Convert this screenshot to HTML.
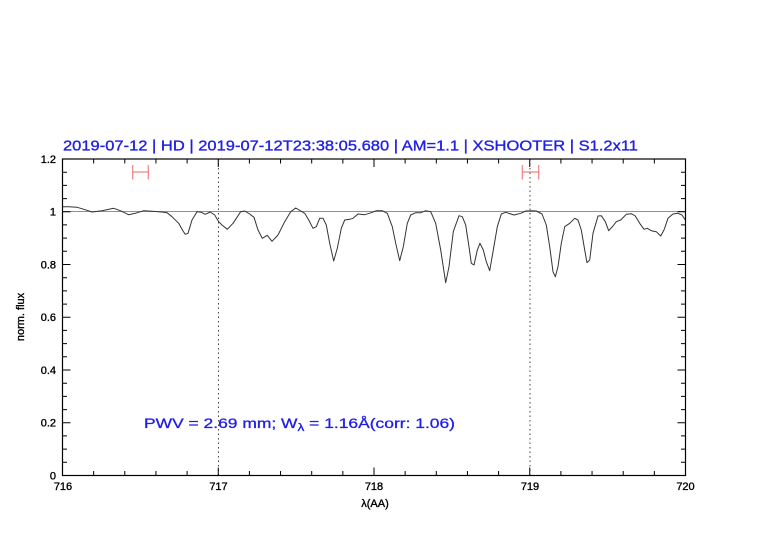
<!DOCTYPE html>
<html><head><meta charset="utf-8"><style>
html,body{margin:0;padding:0;background:#fff;}
svg{display:block;}
text{font-family:"Liberation Sans",sans-serif;}
</style></head><body>
<svg width="782" height="542" viewBox="0 0 782 542" xmlns="http://www.w3.org/2000/svg">
<rect width="782" height="542" fill="#fff"/>
<!-- title -->
<text x="63" y="150.5" font-size="15" fill="#1f1fe6" stroke="#1f1fe6" stroke-width="0.35" textLength="575" lengthAdjust="spacingAndGlyphs">2019-07-12 | HD | 2019-07-12T23:38:05.680 | AM=1.1 | XSHOOTER | S1.2x11</text>
<!-- reference line at 1 -->
<line x1="62.5" y1="211.5" x2="685.5" y2="211.5" stroke="#e07070" stroke-width="1"/>
<!-- dotted verticals -->
<line x1="218.5" y1="159" x2="218.5" y2="475.5" stroke="#444" stroke-width="1" stroke-dasharray="1.5,3"/>
<line x1="530" y1="159" x2="530" y2="475.5" stroke="#444" stroke-width="1" stroke-dasharray="1.5,3"/>
<!-- red markers -->
<g stroke="#f08080" stroke-width="1.2" fill="none">
<line x1="132.7" y1="172" x2="148.3" y2="172"/><line x1="132.7" y1="165" x2="132.7" y2="179.5"/><line x1="148.3" y1="165" x2="148.3" y2="179.5"/>
<line x1="522.3" y1="172" x2="538.7" y2="172"/><line x1="522.3" y1="165" x2="522.3" y2="179.5"/><line x1="538.7" y1="165" x2="538.7" y2="179.5"/>
</g>
<!-- spectrum -->
<polyline fill="none" stroke="#333" stroke-width="1" stroke-linejoin="round" points="62,206.7 68.7,206.7 77,207.3 82,208.7 92,212 102,210.7 113.7,208.3 120.3,210.7 128.7,214.7 135.3,213.3 143.7,210.7 152,211.3 162,212 167,212.7 172,216.7 178.7,223.3 183,231 185.3,234.3 188,233.3 192,220 197,211.7 201.3,212.3 205.3,214.3 210.3,212 214.7,215 218.7,221.7 222,225 227.3,229.3 233,223.3 240.7,211.7 244.7,211 249.7,214 254,217.3 258,230 262.3,238.3 267.3,235.3 272,241.3 278,235 284.7,221.7 290.7,211.7 295.7,208 304.7,213.3 308.7,220 313,228.3 316.3,226.7 319.7,218.3 323,218.3 326.3,225 329.7,243.3 333.7,261 337.3,248.3 341.3,228.3 344.7,220 349.7,219.3 353,218.3 358,214 364.7,214.7 371.3,212.7 376.3,210.7 382.3,210.7 387.3,213.3 392.3,226.7 395.7,243.3 399.7,260.7 403.3,246.7 407.3,223.3 410.7,215 415.7,212.7 420.7,212.7 425.7,210.7 430.7,211.7 435.7,223.3 440.7,250 445.7,282.7 449,266.7 453.3,231.7 459,215.7 462.3,216.7 465.7,225 469,246.7 471.3,263.3 474,265 477.3,250 480,243.3 483.3,250 486.3,261.7 489.7,270.7 493.3,250 497.3,226.7 501.3,214 505.7,212.3 514,215 520.7,213.3 525.7,211 532.3,210.7 536.3,211 542,214 546.3,225 549.7,246.7 553,271.7 555.3,276.7 558,266.7 561.3,243.3 564.7,226.7 569.7,223.3 574.7,218.3 578,220 581.3,230 584.7,250 587,262.7 589.7,260 593,233.3 598,216 601.3,215.7 605.3,221.7 608.7,230.7 613,226 616.3,221.7 620.7,220 626.3,214.3 631.3,213.7 635.3,216 639.7,223.3 644,229.3 647.3,228.3 651.3,230.7 656.3,231.7 660.7,236 664,230 668,218.3 673,214 678,213.3 682,215 685.3,220"/>
<!-- frame -->
<rect x="62.5" y="159" width="623" height="316.5" fill="none" stroke="#000" stroke-width="1.2"/>
<!-- ticks -->
<g stroke="#000" stroke-width="1">
<path d="M62.5 475.5v-8M93.65 475.5v-4.5M124.8 475.5v-4.5M155.95 475.5v-4.5M187.1 475.5v-4.5M218.25 475.5v-8M249.4 475.5v-4.5M280.55 475.5v-4.5M311.7 475.5v-4.5M342.85 475.5v-4.5M374 475.5v-8M405.15 475.5v-4.5M436.3 475.5v-4.5M467.45 475.5v-4.5M498.6 475.5v-4.5M529.75 475.5v-8M560.9 475.5v-4.5M592.05 475.5v-4.5M623.2 475.5v-4.5M654.35 475.5v-4.5M685.5 475.5v-8"/>
<path d="M62.5 159v8M93.65 159v4.5M124.8 159v4.5M155.95 159v4.5M187.1 159v4.5M218.25 159v8M249.4 159v4.5M280.55 159v4.5M311.7 159v4.5M342.85 159v4.5M374 159v8M405.15 159v4.5M436.3 159v4.5M467.45 159v4.5M498.6 159v4.5M529.75 159v8M560.9 159v4.5M592.05 159v4.5M623.2 159v4.5M654.35 159v4.5M685.5 159v8"/>
<path d="M62.5 475.5h8M62.5 462.3h4.5M62.5 449.1h4.5M62.5 435.9h4.5M62.5 422.75h8M62.5 409.6h4.5M62.5 396.4h4.5M62.5 383.2h4.5M62.5 370h8M62.5 356.8h4.5M62.5 343.6h4.5M62.5 330.4h4.5M62.5 317.25h8M62.5 304.1h4.5M62.5 290.9h4.5M62.5 277.7h4.5M62.5 264.5h8M62.5 251.3h4.5M62.5 238.1h4.5M62.5 224.9h4.5M62.5 211.75h8M62.5 198.6h4.5M62.5 185.4h4.5M62.5 172.2h4.5M62.5 159h8"/>
<path d="M685.5 475.5h-8M685.5 462.3h-4.5M685.5 449.1h-4.5M685.5 435.9h-4.5M685.5 422.75h-8M685.5 409.6h-4.5M685.5 396.4h-4.5M685.5 383.2h-4.5M685.5 370h-8M685.5 356.8h-4.5M685.5 343.6h-4.5M685.5 330.4h-4.5M685.5 317.25h-8M685.5 304.1h-4.5M685.5 290.9h-4.5M685.5 277.7h-4.5M685.5 264.5h-8M685.5 251.3h-4.5M685.5 238.1h-4.5M685.5 224.9h-4.5M685.5 211.75h-8M685.5 198.6h-4.5M685.5 185.4h-4.5M685.5 172.2h-4.5M685.5 159h-8"/>
</g>
<!-- y tick labels -->
<g font-size="11" fill="#000" text-anchor="end" stroke="#000" stroke-width="0.35">
<text x="56" y="163">1.2</text>
<text x="56" y="215.5">1</text>
<text x="56" y="268.5">0.8</text>
<text x="56" y="321">0.6</text>
<text x="56" y="374">0.4</text>
<text x="56" y="426.5">0.2</text>
<text x="56" y="479.5">0</text>
</g>
<!-- x tick labels -->
<g font-size="11" fill="#000" text-anchor="middle" stroke="#000" stroke-width="0.35">
<text x="63" y="490">716</text>
<text x="218.5" y="490">717</text>
<text x="374" y="490">718</text>
<text x="530" y="490">719</text>
<text x="685.5" y="490">720</text>
</g>
<text x="375" y="507" font-size="11" text-anchor="middle" fill="#000" stroke="#000" stroke-width="0.35">λ(AA)</text>
<text transform="translate(24,317) rotate(-90)" font-size="11" text-anchor="middle" fill="#000" stroke="#000" stroke-width="0.35">norm. flux</text>
<!-- annotation -->
<text x="144" y="428" font-size="14" fill="#1f1fe6" stroke="#1f1fe6" stroke-width="0.3" textLength="311" lengthAdjust="spacingAndGlyphs">PWV  =  2.69  mm;  W<tspan font-size="11" dy="3">λ</tspan><tspan dy="-3">  =  1.16Å(corr:  1.06)</tspan></text>
</svg>
</body></html>
